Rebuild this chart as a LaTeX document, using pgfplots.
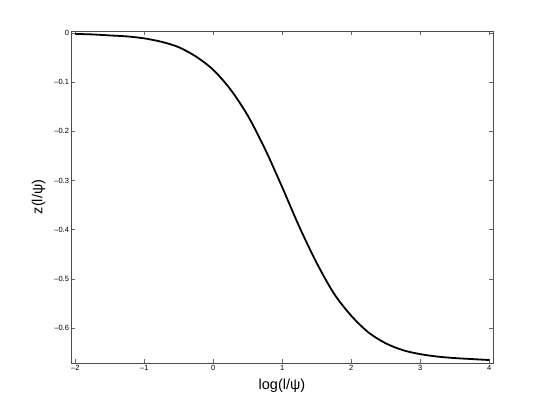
\documentclass[border=0pt]{standalone}
\usepackage{pgfplots}
\pgfplotsset{compat=1.18}
\usepackage{fontspec}
\setmainfont{Liberation Sans}

\begin{document}
\begin{tikzpicture}[x=1pt,y=1pt]
\useasboundingbox (0,0) rectangle (545,409);
\begin{axis}[
  at={(71pt,46pt)}, anchor=south west,
  scale only axis,
  width=422pt, height=332pt,
  xmin=-2.062, xmax=4.054,
  ymin=-0.671, ymax=0.004,
  xtick={-2,-1,0,1,2,3,4},
  xticklabels={\textendash2,\textendash1,0,1,2,3,4},
  ytick={-0.6,-0.5,-0.4,-0.3,-0.2,-0.1,0},
  yticklabels={\textendash0.6,\textendash0.5,\textendash0.4,\textendash0.3,\textendash0.2,\textendash0.1,0},
  tick label style={font=\fontsize{7.5}{9}\selectfont},
  xticklabel style={yshift=1pt},
  yticklabel style={xshift=1.5pt},
  tick align=inside,
  major tick length=4pt,
  tick style={black!60, line width=0.5pt},
  axis line style={black!70, line width=0.6pt},
  xlabel={log(l/ψ)},
  ylabel={z(l/ψ)},
  label style={font=\fontsize{14.5}{16}\selectfont},
  xlabel style={yshift=-1pt},
  ylabel style={yshift=2pt},
]
\addplot[black, line width=1.8pt, smooth] coordinates {
  (-2.00,-0.002) (-1.75,-0.003) (-1.50,-0.005) (-1.25,-0.007)
  (-1.00,-0.011) (-0.75,-0.018) (-0.50,-0.029) (-0.25,-0.048)
  (0.00,-0.075) (0.25,-0.115) (0.50,-0.168) (0.75,-0.236)
  (1.00,-0.314) (1.25,-0.395) (1.50,-0.468) (1.75,-0.530)
  (2.00,-0.575) (2.25,-0.609) (2.50,-0.631) (2.75,-0.645)
  (3.00,-0.653) (3.25,-0.658) (3.50,-0.661) (3.75,-0.663)
  (4.00,-0.665)
};
\end{axis}
\end{tikzpicture}
\end{document}
